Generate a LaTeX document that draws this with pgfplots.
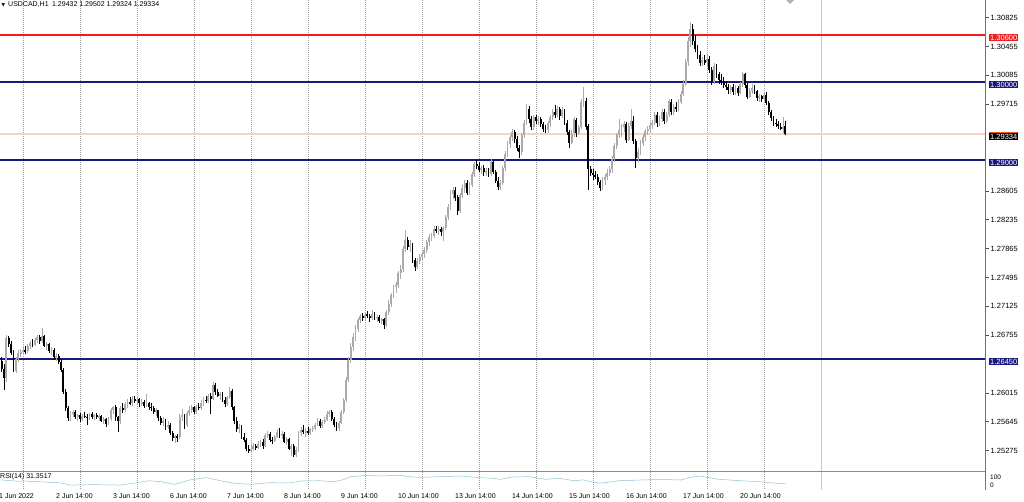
\documentclass[border=0pt]{standalone}
\usepackage{pgfplots}
\pgfplotsset{compat=1.18}
\usepackage{pgfplotstable}
\usepackage{fontspec}
\setmainfont{Liberation Sans}
\newfontfamily\symfont{DejaVu Sans}

\definecolor{LvlRed}{RGB}{238,30,30}
\definecolor{LvlNavy}{RGB}{24,24,128}
\definecolor{BidLine}{RGB}{250,208,192}
\definecolor{GridGray}{RGB}{160,160,160}
\definecolor{BullGray}{RGB}{170,170,170}
\definecolor{RsiBlue}{RGB}{140,195,210}
\definecolor{AskOrange}{RGB}{235,90,30}

% USDCAD H1 candles, t = hours after 1 Jun 14:00
\pgfplotstableread{
t o hi lo c
-9 1.2642 1.2648 1.2628 1.2632
-8 1.2632 1.2638 1.2605 1.2620
-7 1.2620 1.2676 1.2615 1.2672
-6 1.2672 1.2675 1.2660 1.2664
-5 1.2664 1.2668 1.2650 1.2653
-4 1.2653 1.2656 1.2628 1.2630
-3 1.2630 1.2648 1.2627 1.2645
-2 1.2645 1.2656 1.2641 1.2652
-1 1.2652 1.2658 1.2648 1.2654
0 1.2654 1.2660 1.2650 1.2656
1 1.2656 1.2661 1.2651 1.2655
2 1.2655 1.2664 1.2653 1.2661
3 1.2661 1.2668 1.2658 1.2665
4 1.2665 1.2670 1.2660 1.2663
5 1.2663 1.2672 1.2661 1.2669
6 1.2669 1.2676 1.2666 1.2673
7 1.2673 1.2676 1.2664 1.2668
8 1.2668 1.2685 1.2665 1.2674
9 1.2674 1.2676 1.2660 1.2662
10 1.2662 1.2667 1.2657 1.2664
11 1.2664 1.2666 1.2652 1.2655
12 1.2655 1.2660 1.2650 1.2657
13 1.2657 1.2659 1.2644 1.2647
14 1.2647 1.2652 1.2642 1.2649
15 1.2649 1.2651 1.2638 1.2641
16 1.2641 1.2645 1.2628 1.2631
17 1.2631 1.2634 1.2600 1.2603
18 1.2603 1.2606 1.2578 1.2582
19 1.2582 1.2585 1.2566 1.2569
20 1.2569 1.2578 1.2566 1.2575
21 1.2575 1.2580 1.2570 1.2577
22 1.2577 1.2579 1.2568 1.2570
23 1.2570 1.2575 1.2565 1.2573
24 1.2573 1.2576 1.2564 1.2568
25 1.2568 1.2574 1.2566 1.2572
26 1.2572 1.2577 1.2569 1.2571
27 1.2571 1.2574 1.2560 1.2570
28 1.2570 1.2576 1.2567 1.2574
29 1.2574 1.2577 1.2568 1.2571
30 1.2571 1.2575 1.2567 1.2573
31 1.2573 1.2576 1.2568 1.2570
32 1.2570 1.2574 1.2565 1.2572
33 1.2572 1.2573 1.2564 1.2566
34 1.2566 1.2570 1.2561 1.2568
35 1.2568 1.2569 1.2558 1.2562
36 1.2562 1.2570 1.2560 1.2568
37 1.2568 1.2582 1.2566 1.2579
38 1.2579 1.2585 1.2574 1.2583
39 1.2583 1.2586 1.2566 1.2570
40 1.2570 1.2572 1.2551 1.2565
41 1.2565 1.2585 1.2562 1.2582
42 1.2582 1.2588 1.2576 1.2579
43 1.2579 1.2590 1.2577 1.2587
44 1.2587 1.2594 1.2582 1.2590
45 1.2590 1.2596 1.2586 1.2588
46 1.2588 1.2598 1.2585 1.2594
47 1.2594 1.2598 1.2588 1.2591
48 1.2591 1.2597 1.2587 1.2593
49 1.2593 1.2595 1.2584 1.2588
50 1.2588 1.2594 1.2585 1.2590
51 1.2590 1.2592 1.2582 1.2585
52 1.2585 1.2600 1.2583 1.2588
53 1.2588 1.2590 1.2580 1.2584
54 1.2584 1.2588 1.2578 1.2582
55 1.2582 1.2585 1.2574 1.2577
56 1.2577 1.2582 1.2572 1.2579
57 1.2579 1.2580 1.2566 1.2569
58 1.2569 1.2572 1.2560 1.2563
59 1.2563 1.2570 1.2559 1.2566
60 1.2566 1.2568 1.2554 1.2558
61 1.2558 1.2565 1.2555 1.2561
62 1.2561 1.2563 1.2548 1.2550
63 1.2550 1.2552 1.2540 1.2544
64 1.2544 1.2548 1.2537 1.2546
65 1.2546 1.2549 1.2538 1.2545
66 1.2545 1.2574 1.2543 1.2570
67 1.2570 1.2581 1.2566 1.2573
68 1.2573 1.2575 1.2555 1.2560
69 1.2560 1.2578 1.2558 1.2576
70 1.2576 1.2584 1.2572 1.2579
71 1.2579 1.2586 1.2576 1.2583
72 1.2583 1.2585 1.2574 1.2577
73 1.2577 1.2586 1.2575 1.2584
74 1.2584 1.2588 1.2579 1.2582
75 1.2582 1.2592 1.2580 1.2589
76 1.2589 1.2596 1.2585 1.2593
77 1.2593 1.2598 1.2588 1.2591
78 1.2591 1.2600 1.2588 1.2597
79 1.2597 1.2601 1.2575 1.2594
80 1.2594 1.2616 1.2592 1.2612
81 1.2612 1.2614 1.2599 1.2602
82 1.2602 1.2606 1.2596 1.2598
83 1.2598 1.2603 1.2592 1.2600
84 1.2600 1.2602 1.2590 1.2593
85 1.2593 1.2596 1.2584 1.2587
86 1.2587 1.2598 1.2585 1.2596
87 1.2596 1.2609 1.2594 1.2604
88 1.2604 1.2606 1.2580 1.2583
89 1.2583 1.2585 1.2562 1.2566
90 1.2566 1.2570 1.2552 1.2555
91 1.2555 1.2562 1.2550 1.2558
92 1.2558 1.2560 1.2542 1.2545
93 1.2545 1.2550 1.2538 1.2541
94 1.2541 1.2543 1.2527 1.2530
95 1.2530 1.2534 1.2524 1.2527
96 1.2527 1.2535 1.2524 1.2530
97 1.2530 1.2537 1.2527 1.2533
98 1.2533 1.2536 1.2528 1.2531
99 1.2531 1.2540 1.2529 1.2536
100 1.2536 1.2541 1.2532 1.2538
101 1.2538 1.2542 1.2530 1.2534
102 1.2534 1.2550 1.2532 1.2547
103 1.2547 1.2552 1.2543 1.2549
104 1.2549 1.2551 1.2538 1.2541
105 1.2541 1.2545 1.2536 1.2540
106 1.2540 1.2548 1.2538 1.2545
107 1.2545 1.2555 1.2543 1.2552
108 1.2552 1.2556 1.2544 1.2547
109 1.2547 1.2553 1.2543 1.2549
110 1.2549 1.2551 1.2537 1.2539
111 1.2539 1.2545 1.2535 1.2542
112 1.2542 1.2544 1.2528 1.2530
113 1.2530 1.2536 1.2520 1.2534
114 1.2534 1.2536 1.2519 1.2522
115 1.2522 1.2532 1.2519 1.2528
116 1.2528 1.2553 1.2526 1.2550
117 1.2550 1.2558 1.2546 1.2554
118 1.2554 1.2560 1.2549 1.2551
119 1.2551 1.2556 1.2545 1.2553
120 1.2553 1.2558 1.2548 1.2550
121 1.2550 1.2557 1.2547 1.2555
122 1.2555 1.2559 1.2551 1.2557
123 1.2557 1.2563 1.2554 1.2561
124 1.2561 1.2569 1.2559 1.2566
125 1.2566 1.2568 1.2556 1.2559
126 1.2559 1.2567 1.2557 1.2564
127 1.2564 1.2570 1.2561 1.2567
128 1.2567 1.2578 1.2565 1.2575
129 1.2575 1.2580 1.2571 1.2577
130 1.2577 1.2579 1.2565 1.2568
131 1.2568 1.2570 1.2558 1.2560
132 1.2560 1.2564 1.2552 1.2556
133 1.2556 1.2566 1.2553 1.2563
134 1.2563 1.2580 1.2561 1.2577
135 1.2577 1.2595 1.2575 1.2592
136 1.2592 1.2622 1.2590 1.2618
137 1.2618 1.2648 1.2615 1.2644
138 1.2644 1.2665 1.2640 1.2660
139 1.2660 1.2678 1.2655 1.2673
140 1.2673 1.2688 1.2668 1.2684
141 1.2684 1.2698 1.2680 1.2695
142 1.2695 1.2703 1.2691 1.2700
143 1.2700 1.2704 1.2694 1.2698
144 1.2698 1.2705 1.2695 1.2702
145 1.2702 1.2706 1.2697 1.2700
146 1.2700 1.2703 1.2693 1.2697
147 1.2697 1.2708 1.2695 1.2703
148 1.2703 1.2705 1.2695 1.2698
149 1.2698 1.2702 1.2693 1.2699
150 1.2699 1.2701 1.2691 1.2694
151 1.2694 1.2698 1.2690 1.2696
152 1.2696 1.2697 1.2684 1.2688
153 1.2688 1.2708 1.2686 1.2705
154 1.2705 1.2720 1.2702 1.2716
155 1.2716 1.2730 1.2712 1.2727
156 1.2727 1.2740 1.2723 1.2737
157 1.2737 1.2744 1.2730 1.2740
158 1.2740 1.2758 1.2736 1.2755
159 1.2755 1.2765 1.2748 1.2760
160 1.2760 1.2790 1.2757 1.2786
161 1.2786 1.2810 1.2782 1.2798
162 1.2798 1.2802 1.2785 1.2788
163 1.2788 1.2797 1.2782 1.2791
164 1.2791 1.2793 1.2768 1.2772
165 1.2772 1.2775 1.2758 1.2763
166 1.2763 1.2775 1.2760 1.2771
167 1.2771 1.2780 1.2767 1.2776
168 1.2776 1.2782 1.2770 1.2779
169 1.2779 1.2788 1.2775 1.2785
170 1.2785 1.2798 1.2781 1.2795
171 1.2795 1.2805 1.2790 1.2801
172 1.2801 1.2807 1.2796 1.2803
173 1.2803 1.2815 1.2800 1.2812
174 1.2812 1.2816 1.2806 1.2809
175 1.2809 1.2815 1.2804 1.2811
176 1.2811 1.2814 1.2803 1.2808
177 1.2808 1.2815 1.2796 1.2813
178 1.2813 1.2830 1.2810 1.2827
179 1.2827 1.2843 1.2823 1.2840
180 1.2840 1.2862 1.2836 1.2857
181 1.2857 1.2866 1.2850 1.2861
182 1.2861 1.2865 1.2848 1.2852
183 1.2852 1.2855 1.2830 1.2835
184 1.2835 1.2858 1.2832 1.2855
185 1.2855 1.2868 1.2851 1.2864
186 1.2864 1.2874 1.2858 1.2870
187 1.2870 1.2874 1.2855 1.2858
188 1.2858 1.2872 1.2855 1.2868
189 1.2868 1.2885 1.2865 1.2882
190 1.2882 1.2898 1.2878 1.2895
191 1.2895 1.2900 1.2888 1.2893
192 1.2893 1.2897 1.2884 1.2887
193 1.2887 1.2893 1.2882 1.2890
194 1.2890 1.2894 1.2880 1.2884
195 1.2884 1.2890 1.2879 1.2886
196 1.2886 1.2890 1.2878 1.2882
197 1.2882 1.2901 1.2880 1.2897
198 1.2897 1.2899 1.2882 1.2885
199 1.2885 1.2887 1.2870 1.2873
200 1.2873 1.2878 1.2862 1.2866
201 1.2866 1.2875 1.2861 1.2870
202 1.2870 1.2893 1.2868 1.2890
203 1.2890 1.2912 1.2886 1.2908
204 1.2908 1.2925 1.2904 1.2921
205 1.2921 1.2932 1.2916 1.2929
206 1.2929 1.2940 1.2924 1.2936
207 1.2936 1.2939 1.2922 1.2927
208 1.2927 1.2931 1.2912 1.2916
209 1.2916 1.2919 1.2903 1.2910
210 1.2910 1.2935 1.2907 1.2932
211 1.2932 1.2952 1.2928 1.2948
212 1.2948 1.2972 1.2945 1.2966
213 1.2966 1.2969 1.2948 1.2952
214 1.2952 1.2956 1.2938 1.2942
215 1.2942 1.2958 1.2939 1.2955
216 1.2955 1.2958 1.2946 1.2950
217 1.2950 1.2956 1.2945 1.2953
218 1.2953 1.2955 1.2943 1.2946
219 1.2946 1.2949 1.2936 1.2940
220 1.2940 1.2945 1.2934 1.2938
221 1.2938 1.2950 1.2935 1.2947
222 1.2947 1.2958 1.2943 1.2955
223 1.2955 1.2966 1.2951 1.2962
224 1.2962 1.2970 1.2954 1.2958
225 1.2958 1.2969 1.2955 1.2965
226 1.2965 1.2968 1.2952 1.2956
227 1.2956 1.2968 1.2954 1.2964
228 1.2964 1.2966 1.2945 1.2948
229 1.2948 1.2951 1.2932 1.2936
230 1.2936 1.2938 1.2915 1.2922
231 1.2922 1.2938 1.2920 1.2934
232 1.2934 1.2955 1.2930 1.2952
233 1.2952 1.2954 1.2930 1.2935
234 1.2935 1.2945 1.2932 1.2942
235 1.2942 1.2978 1.2940 1.2974
236 1.2974 1.2994 1.2968 1.2976
237 1.2976 1.2979 1.2938 1.2943
238 1.2943 1.2946 1.2862 1.2888
239 1.2888 1.2893 1.2880 1.2884
240 1.2884 1.2888 1.2874 1.2881
241 1.2881 1.2886 1.2876 1.2878
242 1.2878 1.2882 1.2868 1.2872
243 1.2872 1.2874 1.2860 1.2864
244 1.2864 1.2878 1.2862 1.2875
245 1.2875 1.2882 1.2868 1.2878
246 1.2878 1.2888 1.2874 1.2884
247 1.2884 1.2892 1.2880 1.2888
248 1.2888 1.2905 1.2884 1.2902
249 1.2902 1.2922 1.2898 1.2918
250 1.2918 1.2935 1.2914 1.2932
251 1.2932 1.2953 1.2928 1.2938
252 1.2938 1.2946 1.2930 1.2942
253 1.2942 1.2950 1.2936 1.2946
254 1.2946 1.2949 1.2922 1.2926
255 1.2926 1.2948 1.2924 1.2944
256 1.2944 1.2965 1.2940 1.2950
257 1.2950 1.2957 1.2920 1.2924
258 1.2924 1.2927 1.2890 1.2903
259 1.2903 1.2915 1.2897 1.2910
260 1.2910 1.2926 1.2907 1.2922
261 1.2922 1.2933 1.2918 1.2930
262 1.2930 1.2940 1.2925 1.2937
263 1.2937 1.2944 1.2932 1.2940
264 1.2940 1.2948 1.2935 1.2945
265 1.2945 1.2952 1.2940 1.2948
266 1.2948 1.2962 1.2945 1.2958
267 1.2958 1.2961 1.2942 1.2947
268 1.2947 1.2956 1.2944 1.2953
269 1.2953 1.2966 1.2949 1.2962
270 1.2962 1.2965 1.2946 1.2950
271 1.2950 1.2962 1.2948 1.2958
272 1.2958 1.2978 1.2955 1.2975
273 1.2975 1.2978 1.2958 1.2962
274 1.2962 1.2972 1.2958 1.2968
275 1.2968 1.2974 1.2962 1.2966
276 1.2966 1.2978 1.2963 1.2975
277 1.2975 1.2988 1.2972 1.2985
278 1.2985 1.3002 1.2982 1.2998
279 1.2998 1.3030 1.2995 1.3025
280 1.3025 1.3058 1.3020 1.3052
281 1.3052 1.3077 1.3045 1.3068
282 1.3068 1.3075 1.3048 1.3053
283 1.3053 1.3060 1.3038 1.3042
284 1.3042 1.3048 1.3030 1.3035
285 1.3035 1.3040 1.3020 1.3024
286 1.3024 1.3032 1.3020 1.3028
287 1.3028 1.3034 1.3022 1.3025
288 1.3025 1.3035 1.3021 1.3030
289 1.3030 1.3033 1.3012 1.3016
290 1.3016 1.3019 1.2996 1.3000
291 1.3000 1.3024 1.2998 1.3020
292 1.3020 1.3023 1.3005 1.3010
293 1.3010 1.3013 1.2998 1.3003
294 1.3003 1.3010 1.2996 1.3001
295 1.3001 1.3006 1.2992 1.2996
296 1.2996 1.3002 1.2990 1.2994
297 1.2994 1.2998 1.2985 1.2990
298 1.2990 1.2996 1.2985 1.2993
299 1.2993 1.2997 1.2984 1.2987
300 1.2987 1.2996 1.2983 1.2992
301 1.2992 1.2995 1.2982 1.2986
302 1.2986 1.3000 1.2984 1.2997
303 1.2997 1.3013 1.2994 1.3010
304 1.3010 1.3012 1.2992 1.2996
305 1.2996 1.2999 1.2978 1.2981
306 1.2981 1.2992 1.2979 1.2989
307 1.2989 1.2997 1.2985 1.2993
308 1.2993 1.2996 1.2984 1.2988
309 1.2988 1.2990 1.2976 1.2979
310 1.2979 1.2985 1.2974 1.2982
311 1.2982 1.2984 1.2975 1.2978
312 1.2978 1.2986 1.2976 1.2983
313 1.2983 1.2987 1.2970 1.2973
314 1.2973 1.2976 1.2958 1.2961
315 1.2961 1.2964 1.2950 1.2954
316 1.2954 1.2957 1.2944 1.2948
317 1.2948 1.2953 1.2942 1.2946
318 1.2946 1.2950 1.2940 1.2943
319 1.2943 1.2948 1.2938 1.2940
320 1.2940 1.2955 1.2935 1.2943
321 1.29432 1.29502 1.29324 1.29334
}\candles

\pgfplotstableread{
t rsi
-9 57
-3 50
3 48
7 45
12 40
16 36
20 21
30 24
41 21
47 36
53 52
58 45
64 26
70 57
77 74
81 60
85 45
89 34
96 26
104 38
112 36
117 50
125 52
131 45
135 60
138 81
144 90
150 86
155 88
159 90
163 80
167 76
176 81
184 86
192 74
197 70
201 62
206 79
213 81
220 62
226 69
232 52
236 58
239 45
243 34
251 52
260 57
268 62
277 57
281 76
285 86
290 70
293 62
302 52
310 45
317 34
321 31.35
}\rsi

% price -> y in pt (1 pt = 1 px of the screenshot)
\newcommand{\py}[1]{-(82+(1.30-#1)*7800)}
\newcommand{\mtfont}{\fontsize{7}{8}\selectfont}
\newcommand{\pricefont}{\fontsize{7.5}{8}\selectfont}

\pgfplotsset{
  mtpane/.style={
    scale only axis,
    anchor=north west,
    width=986pt,
    xmin=-9.684, xmax=405.47,
    axis line style={draw=none},
    tick style={draw=none},
    xtick={0,24,...,312}, xticklabels={},
    ytick=\empty,
    grid=major,
    major grid style={GridGray, dash pattern=on 1pt off 1pt, line width=0.5pt},
  },
  hline/.style={forget plot, line width=1.6pt, color=#1},
}
\tikzset{
  tag/.style={fill=#1, text=white, font=\pricefont, inner xsep=1pt, inner ysep=0.6pt,
              anchor=west},
}

\begin{document}
\begin{tikzpicture}[x=1pt,y=1pt]
\path[use as bounding box] (0,0) rectangle (1024,-502);

% chart-shift line
\draw[black!22, line width=0.6pt] ({23+2.375*336},0) -- ({23+2.375*336},-490);

\begin{axis}[
    mtpane,
    at={(0pt,0pt)},
    height=471pt,
    ymin=1.250128, ymax=1.310513,
]

% current bid and horizontal levels
\addplot[hline=BidLine, line width=1.2pt] coordinates {(-9.684,1.29334) (405.47,1.29334)};
\addplot[hline=LvlRed]  coordinates {(-9.684,1.3060) (405.47,1.3060)};
\addplot[hline=LvlNavy] coordinates {(-9.684,1.3000) (405.47,1.3000)};
\addplot[hline=LvlNavy] coordinates {(-9.684,1.2900) (405.47,1.2900)};
\addplot[hline=LvlNavy] coordinates {(-9.684,1.2645) (405.47,1.2645)};

% bullish candles: wicks then bodies
\addplot[forget plot, draw=none, mark=none, unbounded coords=discard,
    restrict expr to domain={\thisrow{c}-\thisrow{o}}{0:1},
    error bars/.cd, y dir=both, y explicit, error mark=none,
    error bar style={draw=BullGray, line width=0.7pt}]
    table[x=t, y expr=(\thisrow{hi}+\thisrow{lo})/2,
          y error expr=(\thisrow{hi}-\thisrow{lo})/2] {\candles};
\addplot[forget plot, draw=none, mark=none, unbounded coords=discard,
    restrict expr to domain={\thisrow{c}-\thisrow{o}}{0:1},
    error bars/.cd, y dir=both, y explicit, error mark=none,
    error bar style={draw=BullGray, line width=1.8pt}]
    table[x=t, y expr=(\thisrow{o}+\thisrow{c})/2,
          y error expr={max(abs(\thisrow{c}-\thisrow{o})/2,0.00003)}] {\candles};

% bearish candles
\addplot[forget plot, draw=none, mark=none, unbounded coords=discard,
    restrict expr to domain={\thisrow{o}-\thisrow{c}}{0.00001:1},
    error bars/.cd, y dir=both, y explicit, error mark=none,
    error bar style={draw=black, line width=0.7pt}]
    table[x=t, y expr=(\thisrow{hi}+\thisrow{lo})/2,
          y error expr=(\thisrow{hi}-\thisrow{lo})/2] {\candles};
\addplot[forget plot, draw=none, mark=none, unbounded coords=discard,
    restrict expr to domain={\thisrow{o}-\thisrow{c}}{0.00001:1},
    error bars/.cd, y dir=both, y explicit, error mark=none,
    error bar style={draw=black, line width=1.8pt}]
    table[x=t, y expr=(\thisrow{o}+\thisrow{c})/2,
          y error expr=abs(\thisrow{c}-\thisrow{o})/2] {\candles};
\end{axis}

% RSI sub-window
\begin{axis}[
    mtpane,
    at={(0pt,-471.7pt)},
    height=17.3pt,
    ymin=-7.1, ymax=116.4,
]
\addplot[RsiBlue, line width=0.5pt] table[x=t, y=rsi] {\rsi};
\end{axis}

% frame lines
\draw[black!45, line width=0.8pt] (0,-471.7) -- (986,-471.7);
\draw[black!55, line width=0.8pt] (985.5,0) -- (985.5,-490);

% price scale
\foreach \p in {1.30825,1.30455,1.30085,1.29715,1.28605,1.28235,
                1.27865,1.27495,1.27125,1.26755,1.26015,1.25645,1.25275}{
  \draw[black!70, line width=0.5pt] (985.5,{\py{\p}}) -- (988.5,{\py{\p}});
  \node[anchor=west, font=\pricefont, inner sep=0pt] at (990.5,{\py{\p}}) {\p};
}

% level tags (top edge just above the line)
\node[tag=LvlRed]  at (989,{\py{1.3060}-2.5}) {1.30600};
\node[tag=LvlNavy] at (989,{\py{1.3000}-2.5}) {1.30000};
\node[tag=LvlNavy] at (989,{\py{1.2900}-2.5}) {1.29000};
\node[tag=LvlNavy] at (989,{\py{1.2645}-2.5}) {1.26450};
\node[tag=AskOrange, text opacity=0] at (989,{\py{1.29334}-1}) {1.29334};
\node[tag=black] at (989,{\py{1.29334}-2.5}) {1.29334};

% RSI texts
\node[anchor=west, font=\mtfont, inner sep=0pt] at (0,-476.5) {RSI(14) 31.3517};
\node[anchor=west, font=\fontsize{6.5}{7}\selectfont, inner sep=0pt] at (990,-477) {100};
\node[anchor=west, font=\fontsize{6.5}{7}\selectfont, inner sep=0pt] at (990,-485.5) {0};

% time scale
\foreach \h/\lab in {0/1 Jun 2022, 24/2 Jun 14:00, 48/3 Jun 14:00, 72/6 Jun 14:00,
                     96/7 Jun 14:00, 120/8 Jun 14:00, 144/9 Jun 14:00, 168/10 Jun 14:00,
                     192/13 Jun 14:00, 216/14 Jun 14:00, 240/15 Jun 14:00, 264/16 Jun 14:00,
                     288/17 Jun 14:00, 312/20 Jun 14:00}{
  \node[anchor=west, font=\mtfont, inner sep=0pt] at ({23+2.375*\h-24},-496) {\lab};
}

% header
\node[anchor=west, font=\symfont\fontsize{4.5}{5}\selectfont, inner sep=0pt] at (1.5,-5) {▼};
\node[anchor=west, font=\mtfont, inner sep=0pt] at (8,-5) {USDCAD,H1\enspace 1.29432 1.29502 1.29324 1.29334};

% chart-shift marker
\fill[black!30] (786,0) -- (794,0) -- (790,-4) -- cycle;
\end{tikzpicture}
\end{document}
